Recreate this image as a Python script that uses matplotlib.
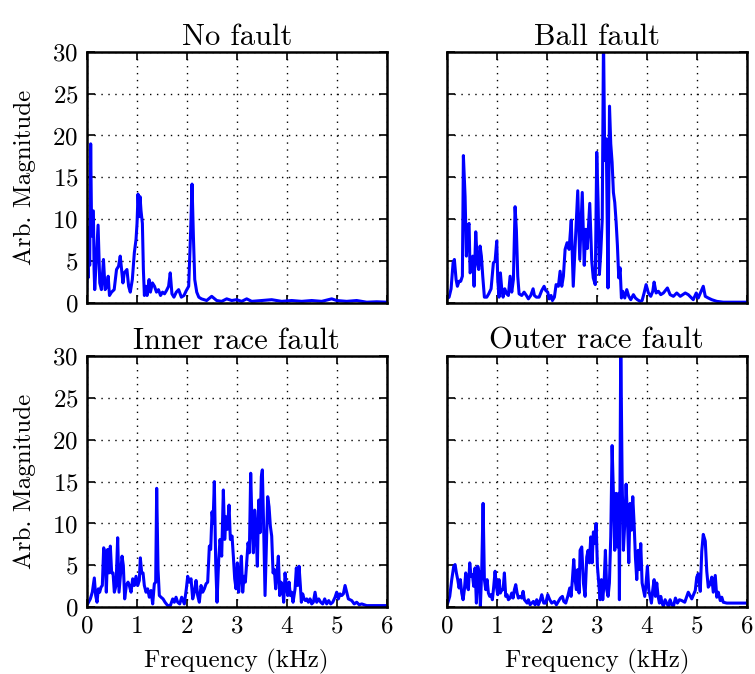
import matplotlib
matplotlib.use("Agg")
import matplotlib.pyplot as plt
import numpy as np

# ---------------- data ----------------
titles = ["No fault", "Ball fault", "Inner race fault", "Outer race fault"]
x_ticks = [0, 1, 2, 3, 4, 5, 6]
y_ticks = [0, 5, 10, 15, 20, 25, 30]

f_no = [0.0, 0.013, 0.027, 0.04, 0.06, 0.08, 0.10, 0.114, 0.134, 0.148, 0.161, 0.228, 0.262, 0.295,
        0.336, 0.369, 0.403, 0.43, 0.456, 0.497, 0.55, 0.597, 0.638, 0.671, 0.698, 0.725, 0.752,
        0.805, 0.839, 0.872, 0.913, 0.953, 0.987, 1.007, 1.027, 1.047, 1.067, 1.087, 1.114, 1.134,
        1.154, 1.181, 1.208, 1.248, 1.275, 1.315, 1.356, 1.396, 1.436, 1.477, 1.517, 1.557, 1.597,
        1.638, 1.671, 1.705, 1.745, 1.792, 1.839, 1.893, 1.946, 1.993, 2.04, 2.08, 2.107, 2.134,
        2.161, 2.201, 2.242, 2.295, 2.4, 2.5, 2.6, 2.7, 2.8, 2.9, 3.0, 3.1, 3.2, 3.3, 3.5, 3.7,
        3.9, 4.1, 4.3, 4.5, 4.7, 4.9, 5.0, 5.2, 5.4, 5.6, 5.8, 6.0]
m_no = [1.5, 6, 3, 9, 4.5, 19, 8, 11, 11, 4, 1.6, 9.3, 2.4, 1.6,
        5.2, 1.6, 2, 3.2, 0.9, 1.3, 1.6, 4, 4.4, 5.6, 4, 2.4, 3.6,
        4, 2, 1.3, 2.8, 6, 7.6, 9.5, 13, 10.3, 12.7, 11, 9.5, 4,
        0.9, 2, 0.9, 2.8, 1.3, 2.4, 2, 1.3, 1.6, 0.9, 1.3, 1.1, 1.5,
        2, 3.6, 1.1, 0.7, 1.3, 1.6, 0.7, 0.9, 1.5, 2, 8.7, 14.2, 8,
        2.8, 1.3, 0.7, 0.5, 0.3, 0.8, 0.3, 0.2, 0.5, 0.3, 0.4, 0.2, 0.5, 0.2, 0.3, 0.4,
        0.2, 0.3, 0.2, 0.3, 0.2, 0.5, 0.3, 0.2, 0.3, 0.1, 0.15, 0.1]

f_ball = [0.0, 0.047, 0.087, 0.127, 0.153, 0.187, 0.213, 0.247, 0.28, 0.313, 0.333, 0.367, 0.393,
          0.42, 0.447, 0.467, 0.493, 0.52, 0.547, 0.58, 0.613, 0.64, 0.667, 0.693, 0.72, 0.753,
          0.8, 0.84, 0.887, 0.933, 0.967, 1.0, 1.02, 1.047, 1.073, 1.1, 1.127, 1.16, 1.2, 1.233,
          1.267, 1.3, 1.333, 1.367, 1.393, 1.42, 1.447, 1.5, 1.547, 1.593, 1.633, 1.68, 1.727,
          1.753, 1.793, 1.847, 1.9, 1.947, 1.98, 2.02, 2.047, 2.087, 2.113, 2.153, 2.187, 2.233,
          2.267, 2.3, 2.333, 2.367, 2.407, 2.447, 2.49, 2.53, 2.57, 2.62, 2.66, 2.71, 2.75, 2.78,
          2.81, 2.86, 2.9, 2.93, 2.97, 3.0, 3.027, 3.053, 3.08, 3.11, 3.135, 3.16, 3.19, 3.225,
          3.255, 3.28, 3.307, 3.333, 3.36, 3.387, 3.413, 3.44, 3.467, 3.493, 3.52, 3.56, 3.6,
          3.64, 3.68, 3.733, 3.773, 3.813, 3.867, 3.907, 3.947, 3.987, 4.033, 4.08, 4.12, 4.147,
          4.187, 4.233, 4.28, 4.333, 4.387, 4.413, 4.467, 4.533, 4.6, 4.67, 4.77, 4.83, 4.93,
          4.99, 5.03, 5.13, 5.17, 5.23, 5.3, 5.4, 5.53, 6.0]
m_ball = [0.5, 0.7, 1.7, 4.8, 5.2, 2.8, 2.0, 2.6, 2.6, 3.2, 17.6, 12.7, 5.6,
          9.1, 9.5, 3.6, 4.0, 5.6, 2.0, 8.5, 4.8, 4.0, 6.8, 5.6, 3.2, 0.7,
          0.7, 1.1, 1.7, 4.8, 5.0, 7.4, 2.8, 0.7, 3.6, 1.7, 0.7, 1.7, 1.1, 0.9,
          3.2, 1.3, 2.8, 11.5, 8.7, 3.2, 1.1, 0.9, 1.3, 0.9, 0.5, 0.9, 1.7,
          0.9, 0.7, 0.7, 1.5, 2.0, 1.5, 1.3, 0.5, 0.9, 0.3, 0.7, 2.2, 2.0,
          3.8, 2.0, 3.2, 6.4, 7.2, 6.4, 9.9, 2.0, 7.0, 13.4, 5.2, 13.2, 4.5, 8.8,
          6.5, 11.9, 5.0, 3.0, 2.2, 18.0, 12.0, 3.4, 6.0, 10.0, 32.0, 17.0, 19.6, 1.8,
          23.5, 19.0, 16.8, 13.2, 12.0, 9.7, 6.9, 3.0, 4.2, 0.6, 1.4, 0.6, 1.6,
          0.8, 0.4, 1.0, 0.6, 0.4, 0.2, 0.3, 1.2, 2.2, 1.2, 0.8, 1.4, 2.5,
          1.2, 1.4, 1.0, 1.2, 1.6, 1.8, 1.0, 0.8, 1.2, 0.8, 1.2, 1.0, 0.4,
          1.2, 0.6, 2.0, 0.8, 0.6, 0.4, 0.2, 0.1, 0.1]

f_inner = [0.0, 0.02, 0.073, 0.113, 0.153, 0.18, 0.207, 0.233, 0.26, 0.287, 0.313, 0.34, 0.367,
           0.393, 0.42, 0.447, 0.473, 0.5, 0.527, 0.553, 0.587, 0.62, 0.647, 0.673, 0.707, 0.733,
           0.76, 0.793, 0.827, 0.853, 0.887, 0.92, 0.953, 0.987, 1.02, 1.053, 1.073, 1.1, 1.127,
           1.153, 1.187, 1.22, 1.253, 1.287, 1.32, 1.353, 1.38, 1.4, 1.427, 1.453, 1.487, 1.527,
           1.567, 1.62, 1.673, 1.72, 1.753, 1.787, 1.82, 1.86, 1.9, 1.953, 1.993, 2.02, 2.053,
           2.087, 2.12, 2.153, 2.187, 2.22, 2.253, 2.287, 2.32, 2.353, 2.387, 2.42, 2.453, 2.48,
           2.507, 2.527, 2.553, 2.58, 2.607, 2.64, 2.667, 2.7, 2.733, 2.76, 2.787, 2.813, 2.847,
           2.873, 2.907, 2.933, 2.96, 2.987, 3.013, 3.04, 3.067, 3.093, 3.12, 3.147, 3.173, 3.2,
           3.227, 3.253, 3.28, 3.307, 3.333, 3.36, 3.387, 3.413, 3.44, 3.467, 3.493, 3.513, 3.54,
           3.567, 3.593, 3.62, 3.647, 3.673, 3.7, 3.727, 3.753, 3.78, 3.807, 3.833, 3.86, 3.887,
           3.913, 3.94, 3.967, 3.993, 4.02, 4.047, 4.073, 4.1, 4.127, 4.167, 4.193, 4.22, 4.247,
           4.273, 4.293, 4.32, 4.347, 4.373, 4.4, 4.433, 4.467, 4.5, 4.533, 4.567, 4.6, 4.64,
           4.68, 4.72, 4.76, 4.8, 4.84, 4.88, 4.92, 4.967, 5.0, 5.033, 5.067, 5.1, 5.133, 5.167,
           5.2, 5.233, 5.3, 5.35, 5.4, 5.45, 5.5, 5.6, 5.8, 6.0]
m_inner = [0.3, 0.4, 1.0, 1.8, 3.5, 1.4, 0.6, 2.2, 1.8, 2.4, 2.6, 7.1, 6.5,
           1.8, 6.9, 4.1, 7.3, 4.1, 4.1, 1.8, 2.6, 8.3, 1.8, 3.7, 6.1, 5.0,
           1.0, 2.6, 3.0, 2.6, 1.8, 3.4, 2.6, 3.7, 2.6, 3.2, 5.9, 4.1, 4.1,
           2.6, 1.8, 2.2, 1.2, 2.0, 0.4, 2.8, 3.0, 14.2, 4.5, 1.4, 1.2, 1.0,
           0.6, 0.2, 0.2, 1.0, 0.6, 1.2, 0.6, 0.4, 1.2, 0.4, 2.2, 3.7, 3.0,
           3.4, 1.0, 1.8, 3.2, 1.4, 0.6, 2.6, 1.8, 2.2, 2.8, 3.0, 7.3, 6.9,
           11.4, 10.0, 15.0, 5.3, 0.6, 5.7, 8.1, 6.1, 14.0, 8.1, 10.8, 9.3, 12.2,
           8.1, 8.5, 6.1, 3.4, 2.2, 5.3, 1.8, 4.1, 6.1, 1.8, 3.7, 3.0, 5.3,
           7.7, 6.5, 16.0, 9.7, 6.5, 11.6, 9.3, 4.9, 12.8, 8.9, 15.6, 16.4, 9.3,
           1.4, 7.3, 13.2, 12.0, 9.7, 8.5, 4.1, 4.5, 2.2, 4.1, 6.1, 1.4, 3.0,
           2.6, 0.6, 4.1, 2.6, 1.4, 3.0, 1.4, 1.8, 0.6, 2.2, 4.7, 2.6, 4.9,
           2.6, 0.6, 1.6, 1.0, 0.8, 1.0, 0.6, 1.0, 0.4, 0.6, 1.8, 0.6, 1.0,
           0.6, 0.4, 1.0, 0.4, 0.8, 0.4, 0.6, 1.2, 1.8, 1.0, 1.6, 1.4, 1.6, 2.6,
           1.8, 1.0, 0.8, 0.4, 0.6, 0.3, 0.4, 0.2, 0.2, 0.2]

f_outer = [0.0, 0.02, 0.06, 0.1, 0.14, 0.167, 0.193, 0.22, 0.247, 0.273, 0.3, 0.327, 0.353, 0.38,
           0.407, 0.433, 0.46, 0.487, 0.513, 0.54, 0.567, 0.593, 0.62, 0.647, 0.673, 0.7, 0.727,
           0.753, 0.78, 0.807, 0.833, 0.86, 0.887, 0.913, 0.94, 0.967, 0.993, 1.02, 1.047, 1.073,
           1.1, 1.127, 1.153, 1.18, 1.207, 1.233, 1.267, 1.3, 1.327, 1.353, 1.38, 1.407, 1.433,
           1.467, 1.5, 1.527, 1.553, 1.58, 1.607, 1.633, 1.667, 1.7, 1.733, 1.767, 1.8, 1.833,
           1.873, 1.9, 1.94, 1.98, 2.02, 2.06, 2.1, 2.153, 2.193, 2.233, 2.273, 2.313, 2.34,
           2.38, 2.42, 2.46, 2.487, 2.513, 2.54, 2.567, 2.593, 2.62, 2.647, 2.667, 2.7, 2.733,
           2.767, 2.8, 2.827, 2.853, 2.88, 2.907, 2.933, 2.96, 2.987, 3.013, 3.04, 3.067, 3.093,
           3.12, 3.147, 3.173, 3.2, 3.227, 3.253, 3.28, 3.307, 3.333, 3.36, 3.387, 3.413, 3.44,
           3.453, 3.48, 3.507, 3.533, 3.56, 3.587, 3.613, 3.64, 3.667, 3.693, 3.72, 3.747, 3.773,
           3.8, 3.827, 3.853, 3.88, 3.907, 3.933, 3.96, 3.987, 4.013, 4.04, 4.067, 4.093, 4.12,
           4.147, 4.173, 4.2, 4.227, 4.253, 4.28, 4.307, 4.333, 4.367, 4.4, 4.433, 4.467, 4.5,
           4.533, 4.573, 4.613, 4.653, 4.7, 4.76, 4.83, 4.9, 4.97, 5.0, 5.03, 5.07, 5.1, 5.13,
           5.17, 5.2, 5.23, 5.27, 5.3, 5.33, 5.37, 5.4, 5.43, 5.47, 5.5, 5.53, 5.6, 5.8, 6.0]
m_outer = [0.3, 0.5, 1.3, 3.3, 4.9, 5.1, 4.1, 3.3, 2.3, 3.3, 1.7, 0.9, 2.1, 4.1,
           2.5, 2.1, 5.3, 3.7, 3.9, 2.5, 4.7, 0.5, 4.9, 4.1, 0.1, 4.5, 12.4,
           3.3, 2.1, 3.3, 1.7, 1.3, 1.5, 0.9, 2.5, 4.3, 2.5, 1.5, 3.3, 1.7,
           2.1, 2.1, 4.1, 1.3, 1.5, 0.9, 1.1, 1.7, 1.1, 2.1, 2.7, 1.7, 1.1,
           1.3, 1.1, 1.9, 0.9, 0.7, 0.5, 0.9, 0.3, 0.5, 0.7, 0.3, 0.9, 0.3,
           0.9, 1.5, 0.5, 0.5, 1.5, 0.9, 0.5, 0.7, 0.3, 0.7, 1.1, 1.3, 0.7,
           0.5, 1.3, 2.3, 1.3, 3.3, 5.7, 3.3, 2.1, 4.5, 1.7, 6.8, 7.2, 2.9,
           1.3, 6.0, 6.8, 5.3, 8.4, 5.3, 9.0, 7.6, 10.0, 4.9, 2.9, 0.9, 3.3,
           0.9, 2.9, 6.8, 2.1, 1.3, 2.9, 8.4, 19.3, 13.6, 6.8, 13.6, 7.2, 13.6,
           0.9, 32.0, 15.5, 6.8, 10.0, 14.7, 10.8, 5.3, 12.4, 9.2, 13.2, 10.0, 6.0,
           3.3, 6.8, 4.5, 7.6, 2.9, 2.1, 1.3, 2.9, 4.9, 2.1, 1.3, 0.5, 2.1,
           3.3, 1.3, 2.9, 1.3, 0.5, 1.3, 0.5, 0.1, 0.9, 0.5, 0.1, 0.9, 0.3,
           0.1, 1.1, 0.5, 0.9, 0.8, 0.6, 1.8, 1.0, 2.0, 3.6, 4.0, 1.9, 6.7, 8.7,
           7.9, 4.3, 2.4, 2.8, 3.6, 1.8, 3.8, 1.2, 1.8, 0.8, 1.2, 0.6, 0.5, 0.5, 0.5]

series = [(f_no, m_no), (f_ball, m_ball), (f_inner, m_inner), (f_outer, m_outer)]

# ---------------- style ----------------
plt.rcParams['font.family'] = ['cmr10', 'DejaVu Serif']
plt.rcParams['axes.formatter.use_mathtext'] = True
plt.rcParams['mathtext.fontset'] = 'cm'
FS = 18
FS_TITLE = 22

fig = plt.figure(figsize=(7.55, 6.74), dpi=100)
lefts = [0.1148, 0.5917]
bottoms = [0.5504, 0.099]
w = 0.3974
h = 0.3729

axes = []
for i in range(4):
    r, c = divmod(i, 2)
    ax = fig.add_axes([lefts[c], bottoms[r], w, h])
    axes.append(ax)
    f, m = series[i]
    ax.plot(f, m, color='#0000ff', linewidth=2.2, clip_on=True)
    ax.set_xlim(0, 6)
    ax.set_ylim(0, 30)
    ax.set_xticks(x_ticks)
    ax.set_yticks(y_ticks)
    ax.grid(True, color='black', linestyle=(0, (1, 4)), linewidth=1.0)
    ax.tick_params(direction='in', length=6, width=1.2, top=True, right=True,
                   labelsize=FS, pad=6)
    for s in ax.spines.values():
        s.set_linewidth(1.8)
    ax.set_title(titles[i], fontsize=FS_TITLE, pad=5)
    if c == 1:
        ax.set_yticklabels([])
    else:
        ax.set_ylabel("Arb. Magnitude", fontsize=FS, labelpad=12)
    if r == 0:
        ax.set_xticklabels([])
    else:
        ax.set_xlabel("Frequency (kHz)", fontsize=FS, labelpad=8)

fig.savefig("out.png", dpi=100)
